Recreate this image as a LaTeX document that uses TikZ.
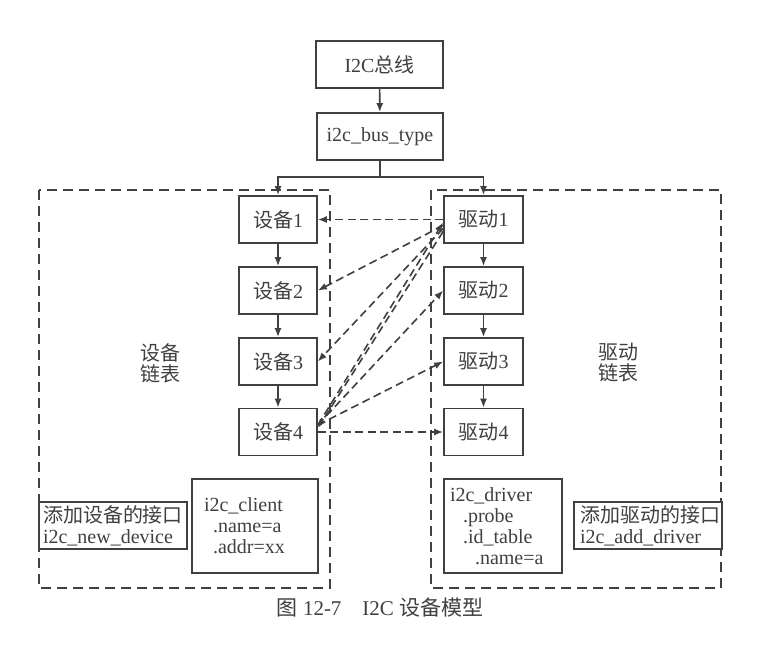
\documentclass[tikz,border=0pt]{standalone}
\usepackage{fontspec}
\setmainfont{Liberation Serif}
\newfontfamily\cjk{Noto Sans CJK SC}
\usetikzlibrary{arrows.meta}
\definecolor{ink}{HTML}{404040}
\newcommand{\zh}[1]{{\cjk #1}}

\begin{document}
\begin{tikzpicture}[x=1pt,y=-1pt,
		every node/.style={text=ink,font=\fontsize{20}{21}\selectfont},
		box/.style={draw=ink,fill=white,line width=1.7pt,inner sep=0pt,minimum height=47pt},
		flow/.style={draw=ink,line width=1.6pt,-{Latex[length=9pt,width=7pt]}},
		link/.style={flow,dash pattern=on 8pt off 4.5pt},
		area/.style={draw=ink,line width=1.6pt,dash pattern=on 10pt off 6pt}]
				\useasboundingbox[fill=white] (0,0) rectangle (780,656);
				
				\draw[area] (39,190) rectangle (330,588);
				\draw[area] (431,190) rectangle (721,588);
				
				\node[box,minimum width=127pt] (bus) at (379.5,64.5) {I2C\zh{总线}};
				\node[box,minimum width=126pt] (bustype) at (380,136.5) {i2c\_bus\_type};
				\coordinate (split) at (380,177);
				
				\foreach \i/\y in {1/219.5,2/290.5,3/361.5,4/432}{
					\node[box,minimum width=78pt] (dev\i) at (278,\y) {\zh{设备}\i};
					\node[box,minimum width=79pt] (drv\i) at (483.5,\y) {\zh{驱动}\i};
				}
				
				\draw[flow] (bus) -- (bustype);
				\draw[draw=ink,line width=1.6pt] (bustype) -- (split);
				\draw[flow] (split) -| (dev1);
				\draw[flow] (split) -| (drv1);
				\foreach \i/\j in {1/2,2/3,3/4}{
					\draw[flow] (dev\i) -- (dev\j);
					\draw[flow] (drv\i) -- (drv\j);
				}
				
				\draw[link] (drv1.west) -- (dev1.east);
				\draw[link] ([yshift=-6pt]drv1.west) -- (dev2.east);
				\draw[link] ([yshift=-9pt]drv1.west) -- (dev3.east);
				\draw[link] ([yshift=-12pt]drv1.west) -- ([yshift=4pt]dev4.east);
				\draw[link] ([yshift=7pt]dev4.east) -- ([yshift=-3pt]drv1.west);
				\draw[link] ([yshift=7pt]dev4.east) -- (drv2.west);
				\draw[link] ([yshift=7pt]dev4.east) -- (drv3.west);
				\draw[link] (dev4.east) -- (drv4.west);
				
				\node[align=center] (devlist) at (160,363) {\zh{设备}\\\zh{链表}};
				\node[align=center] (drvlist) at (618,363) {\zh{驱动}\\\zh{链表}};
				
				\node[box,minimum height=94pt,text width=102pt,inner xsep=12pt,align=left] (client) at (255,526) {i2c\_client\\\hspace*{9pt}.name=a\\\hspace*{9pt}.addr=xx};
				\node[box,text width=140pt,inner xsep=4pt,align=left] (newdev) at (113,525.5) {\zh{添加设备的接口}\\i2c\_new\_device};
				\node[box,minimum height=94pt,text width=106pt,inner xsep=6pt,align=left] (driver) at (503,526) {i2c\_driver\\\hspace*{13pt}.probe\\\hspace*{13pt}.id\_table\\\hspace*{25pt}.name=a};
				\node[box,text width=136pt,inner xsep=6pt,align=left] (adddrv) at (648,525.5) {\zh{添加驱动的接口}\\i2c\_add\_driver};
				
				\node[font=\fontsize{21}{22}\selectfont] (caption) at (380,608) {\zh{图}~12-7\hspace{1em}I2C~\zh{设备模型}};
			\end{tikzpicture}
\end{document}
